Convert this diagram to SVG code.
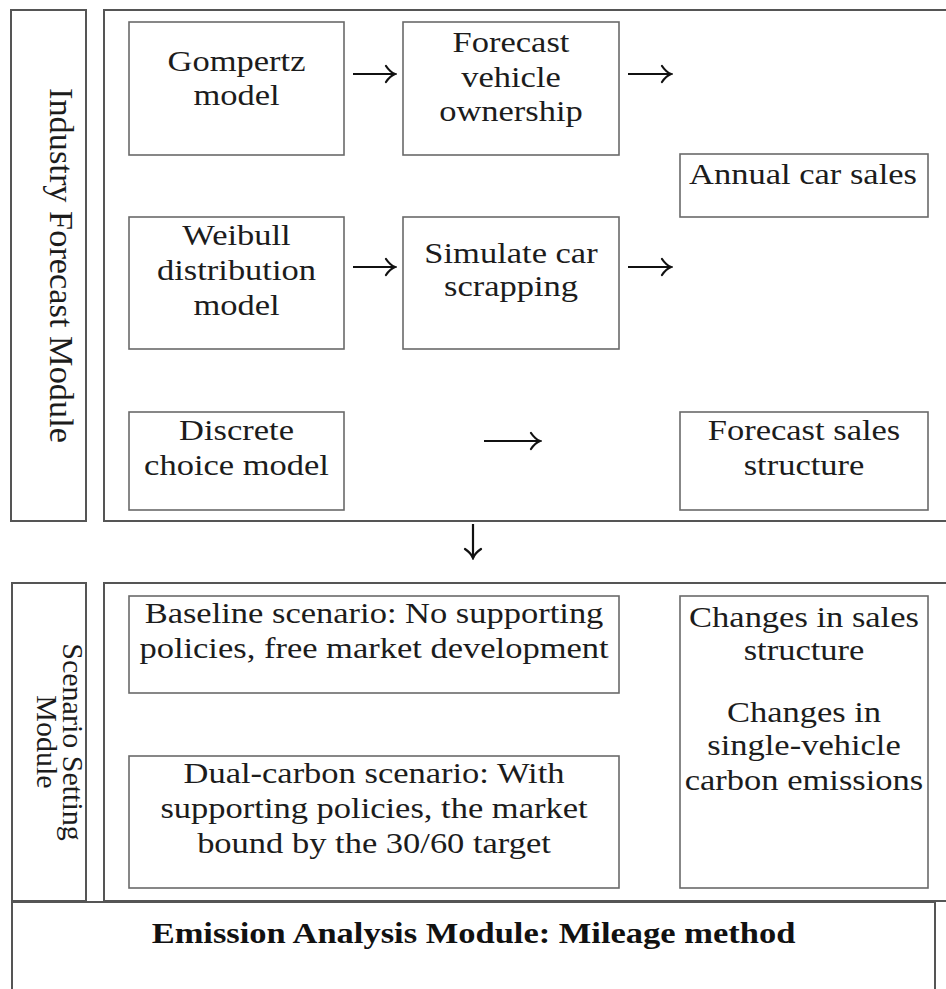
<svg xmlns="http://www.w3.org/2000/svg" width="946" height="989" viewBox="0 0 946 989">
<style>
.frame{fill:none;stroke:#555;stroke-width:2}
.box{fill:none;stroke:#6a6a6a;stroke-width:1.6}
.t{font-family:"Liberation Serif","Times New Roman",serif;font-size:30px;fill:#1c1c1c;text-anchor:middle}
.b{font-weight:bold;fill:#111}
.arr{stroke:#111;stroke-width:2.2;fill:none;marker-end:url(#head)}
</style>
<defs>
<marker id="head" markerUnits="userSpaceOnUse" viewBox="-1 -10 13 20" markerWidth="13" markerHeight="20" refX="10" refY="0" orient="auto">
<path d="M1,-8 Q5,-2 10,0 Q5,2 1,8" fill="none" stroke="#111" stroke-width="2.2" stroke-linecap="round"/>
</marker>
</defs>
<rect width="946" height="989" fill="#fff"/>

<g id="industry-module">
<rect class="frame" x="11" y="10" width="75" height="511"/>
<text class="t" font-size="33" textLength="355" lengthAdjust="spacingAndGlyphs" transform="translate(50 265.5) rotate(90)" x="0" y="0" style="font-size:33px">Industry Forecast Module</text>
</g>
<g id="industry-frame">
<rect class="frame" x="104" y="10" width="860" height="511"/>
</g>

<g id="gompertz">
<rect class="box" x="129" y="22" width="215" height="133"/>
<text class="t" transform="translate(236.5 0) scale(1.15 1)"><tspan x="0" y="71">Gompertz</tspan><tspan x="0" y="105">model</tspan></text>
</g>
<g id="forecast-ownership">
<rect class="box" x="403" y="22" width="216" height="133"/>
<text class="t" transform="translate(511 0) scale(1.15 1)"><tspan x="0" y="52">Forecast</tspan><tspan x="0" y="87">vehicle</tspan><tspan x="0" y="121">ownership</tspan></text>
</g>
<g id="annual-sales">
<rect class="box" x="680" y="154" width="248" height="63"/>
<text class="t" transform="translate(803 0) scale(1.15 1)"><tspan x="0" y="184">Annual car sales</tspan></text>
</g>
<g id="weibull">
<rect class="box" x="129" y="217" width="215" height="132"/>
<text class="t" transform="translate(236.5 0) scale(1.15 1)"><tspan x="0" y="245">Weibull</tspan><tspan x="0" y="280">distribution</tspan><tspan x="0" y="315">model</tspan></text>
</g>
<g id="simulate-scrapping">
<rect class="box" x="403" y="217" width="216" height="132"/>
<text class="t" transform="translate(511 0) scale(1.15 1)"><tspan x="0" y="263">Simulate car</tspan><tspan x="0" y="296">scrapping</tspan></text>
</g>
<g id="discrete-choice">
<rect class="box" x="129" y="412" width="215" height="98"/>
<text class="t" transform="translate(236.5 0) scale(1.15 1)"><tspan x="0" y="440">Discrete</tspan><tspan x="0" y="475">choice model</tspan></text>
</g>
<g id="forecast-structure">
<rect class="box" x="680" y="412" width="248" height="98"/>
<text class="t" transform="translate(804 0) scale(1.15 1)"><tspan x="0" y="440">Forecast sales</tspan><tspan x="0" y="475">structure</tspan></text>
</g>

<g id="scenario-module">
<rect class="frame" x="12" y="583" width="74" height="318"/>
<text class="t" transform="translate(63 742) rotate(90)" x="0" y="0">Scenario Setting</text>
<text class="t" transform="translate(37 742) rotate(90)" x="0" y="0">Module</text>
</g>
<g id="scenario-frame">
<rect class="frame" x="104" y="583" width="860" height="318"/>
</g>
<g id="baseline">
<rect class="box" x="129" y="596" width="490" height="97"/>
<text class="t" transform="translate(374 0) scale(1.15 1)"><tspan x="0" y="623">Baseline scenario: No supporting</tspan><tspan x="0" y="658">policies, free market development</tspan></text>
</g>
<g id="dual-carbon">
<rect class="box" x="129" y="756" width="490" height="132"/>
<text class="t" transform="translate(374 0) scale(1.15 1)"><tspan x="0" y="783">Dual-carbon scenario: With</tspan><tspan x="0" y="818">supporting policies, the market</tspan><tspan x="0" y="853">bound by the 30/60 target</tspan></text>
</g>
<g id="changes">
<rect class="box" x="680" y="596" width="248" height="292"/>
<text class="t" transform="translate(804 0) scale(1.15 1)"><tspan x="0" y="627">Changes in sales</tspan><tspan x="0" y="660">structure</tspan><tspan x="0" y="722">Changes in</tspan><tspan x="0" y="755">single-vehicle</tspan><tspan x="0" y="790">carbon emissions</tspan></text>
</g>

<g id="emission-module">
<rect class="frame" x="12" y="902" width="923" height="100"/>
<text class="t b" transform="translate(473.5 0) scale(1.15 1)"><tspan x="0" y="943">Emission Analysis Module: Mileage method</tspan></text>
</g>

<g id="connectors">
<line class="arr" x1="353" y1="74" x2="395" y2="74"/>
<line class="arr" x1="628" y1="74" x2="671" y2="74"/>
<line class="arr" x1="353" y1="267" x2="395" y2="267"/>
<line class="arr" x1="628" y1="267" x2="671" y2="267"/>
<line class="arr" x1="484" y1="441" x2="540" y2="441"/>
<line class="arr" x1="473" y1="524" x2="473" y2="558"/>
</g>
</svg>
